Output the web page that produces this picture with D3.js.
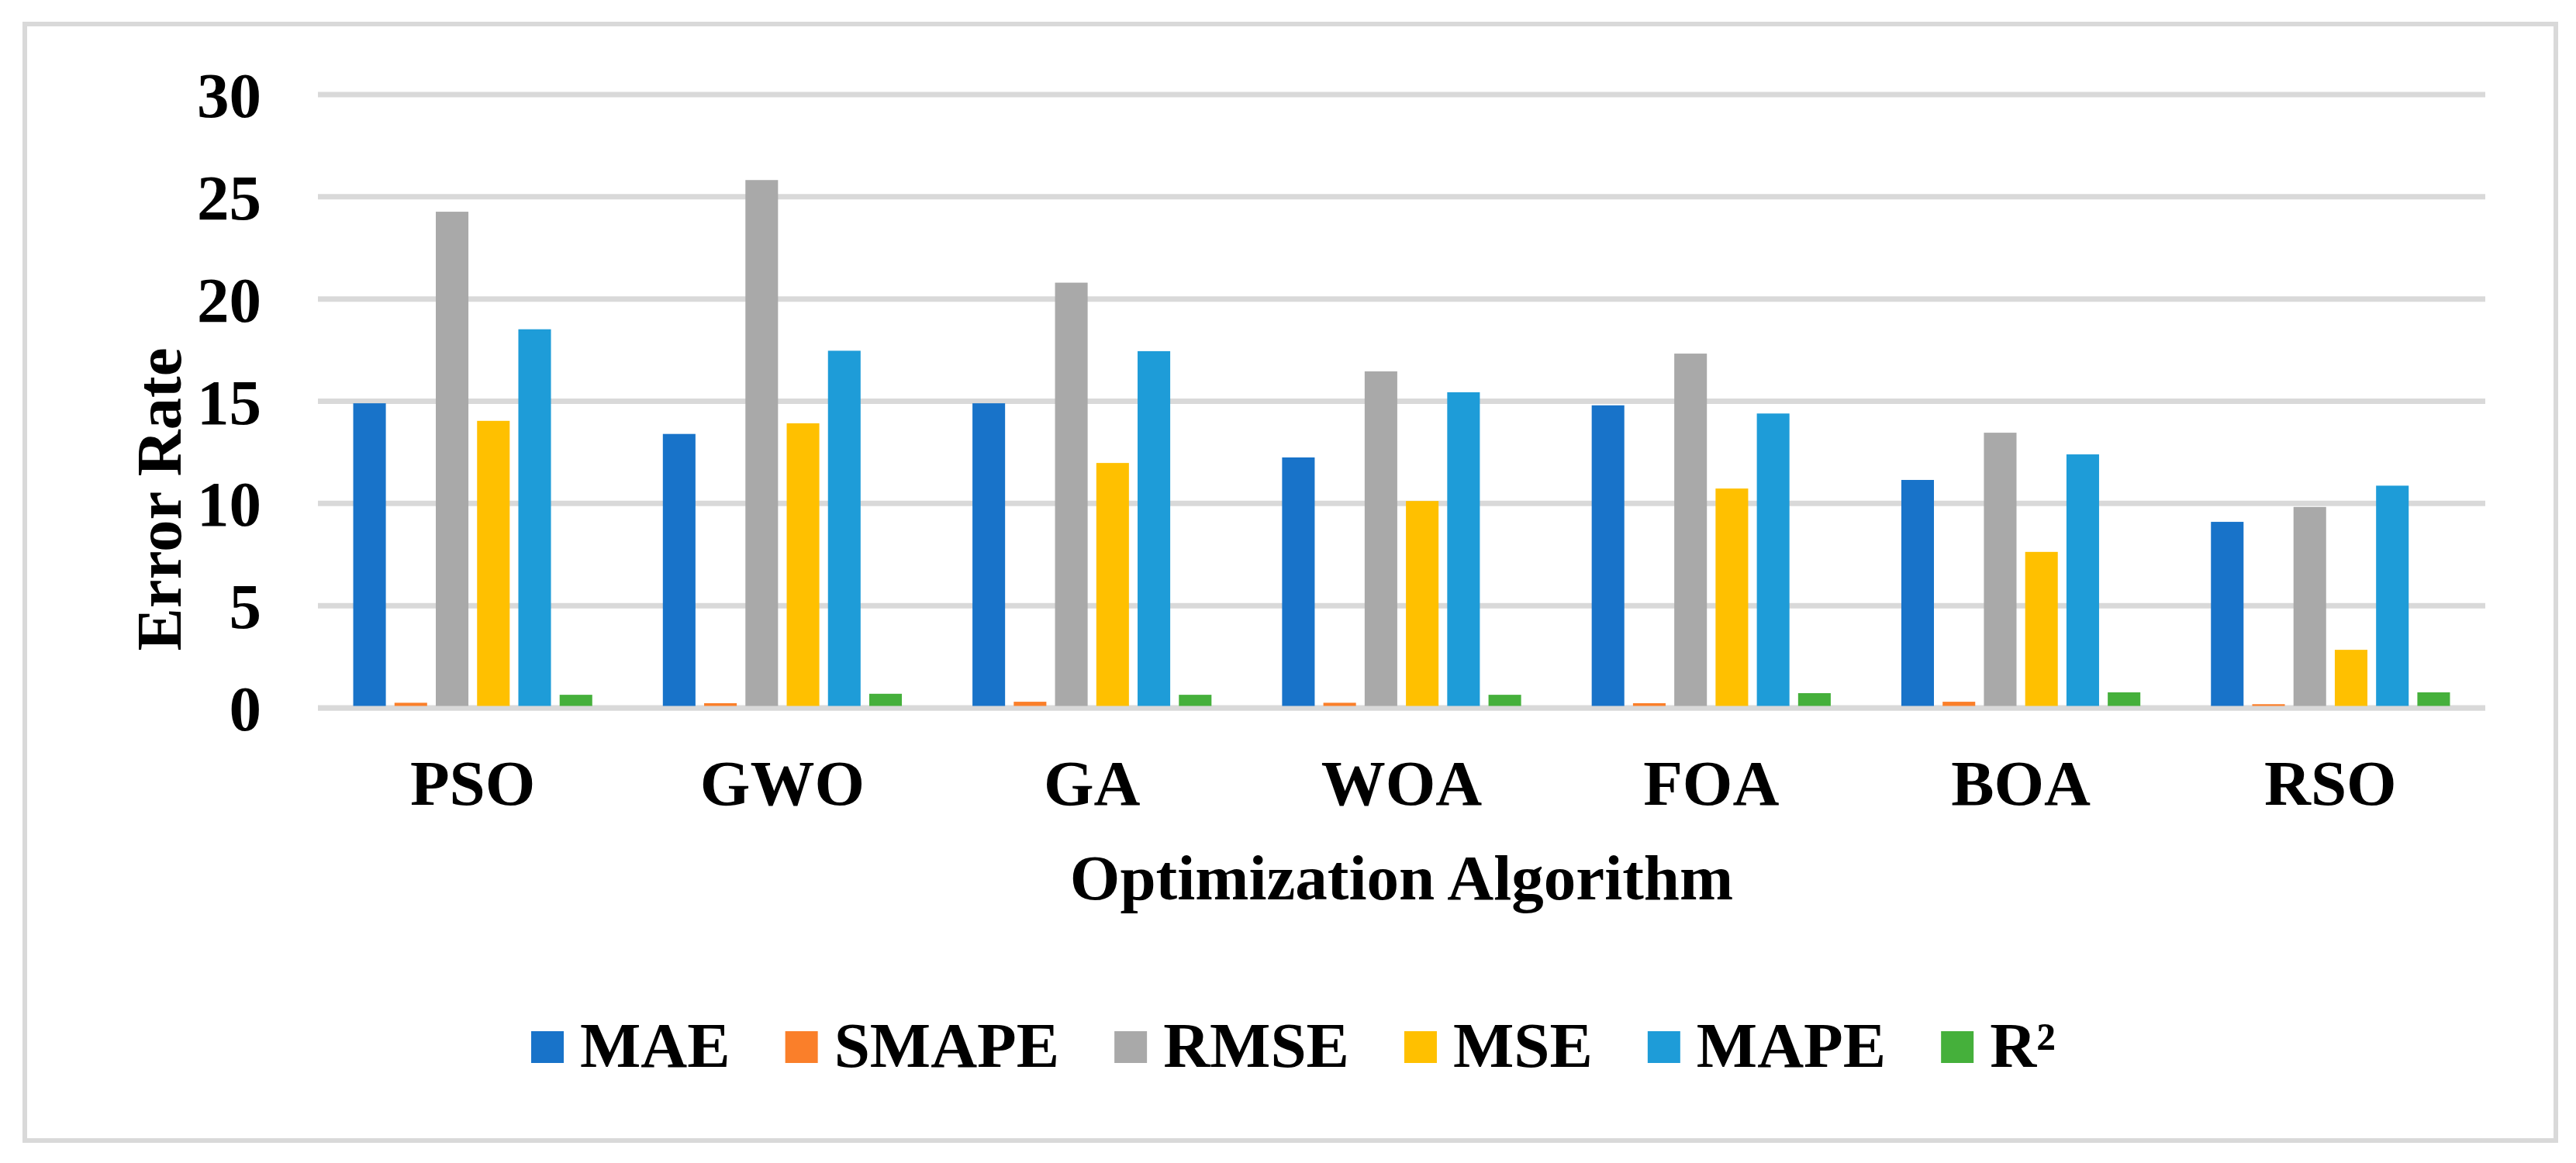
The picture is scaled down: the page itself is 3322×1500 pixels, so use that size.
<!DOCTYPE html>
<html>
<head>
<meta charset="utf-8">
<script src="https://cdn.jsdelivr.net/npm/d3@7"></script>
<style>
  body { margin: 0; background: #fff; }
  text { font-family: "Liberation Serif", "Times New Roman", serif; font-weight: bold; fill: #000; }
</style>
</head>
<body>
<svg id="canvas"></svg>
<script>
// chart data
let algorithms = ['PSO', 'GWO', 'GA', 'WOA', 'FOA', 'BOA', 'RSO']
let metrics = ['MAE', 'SMAPE', 'RMSE', 'MSE', 'MAPE', 'R²']
let maeValues   = [14.9, 13.4, 14.9, 12.25, 14.8, 11.15, 9.1]
let smapeValues = [0.25, 0.23, 0.30, 0.25, 0.23, 0.30, 0.18]
let rmseValues  = [24.27, 25.82, 20.8, 16.46, 17.33, 13.46, 9.83]
let mseValues   = [14.04, 13.92, 11.98, 10.12, 10.73, 7.63, 2.84]
let mapeValues  = [18.52, 17.47, 17.45, 15.44, 14.4, 12.4, 10.87]
let r2Values    = [0.64, 0.69, 0.64, 0.64, 0.72, 0.76, 0.76]
let yTicks = [0, 5, 10, 15, 20, 25, 30]

let seriesValues = [maeValues, smapeValues, rmseValues, mseValues, mapeValues, r2Values]
let colors = ['#1873C9', '#FA7F2A', '#A9A9A9', '#FFC000', '#1E9CD8', '#45B03B']

let width = 3322
let height = 1500
let plot = {left: 410, right: 3205, top: 122, bottom: 913}
let fontSize = 83

let canvas = d3.select('#canvas').attr('width', width).attr('height', height)

// outer frame
canvas.append('rect')
    .attr('x', 32).attr('y', 31)
    .attr('width', 3264).attr('height', 1440)
    .attr('fill', 'none')
    .attr('stroke', '#d9d9d9')
    .attr('stroke-width', 6)

let xScale = d3.scaleBand()
    .domain(algorithms)
    .range([plot.left, plot.right])
    .paddingInner(0.228)
    .paddingOuter(0.114)

let seriesScale = d3.scaleBand()
    .domain(metrics)
    .range([0, xScale.bandwidth()])
    .paddingInner(0.21)

let yScale = d3.scaleLinear()
    .domain([0, 30])
    .range([plot.bottom, plot.top])

// gridlines
canvas.selectAll('.grid')
    .data(yTicks)
    .enter()
    .append('line')
    .attr('class', 'grid')
    .attr('x1', plot.left)
    .attr('x2', plot.right)
    .attr('y1', d => yScale(d))
    .attr('y2', d => yScale(d))
    .attr('stroke', '#d9d9d9')
    .attr('stroke-width', 7)

// y tick labels
canvas.selectAll('.ytick')
    .data(yTicks)
    .enter()
    .append('text')
    .attr('class', 'ytick')
    .attr('x', 337)
    .attr('y', d => yScale(d) + 29)
    .attr('text-anchor', 'end')
    .style('font-size', fontSize + 'px')
    .text(d => d)

// bars
let groups = canvas.selectAll('.group')
    .data(algorithms)
    .enter()
    .append('g')
    .attr('class', 'group')
    .attr('transform', d => 'translate(' + xScale(d) + ',0)')

groups.selectAll('rect')
    .data((d, i) => metrics.map((m, j) => ({metric: m, value: seriesValues[j][i], color: colors[j]})))
    .enter()
    .append('rect')
    .attr('x', d => seriesScale(d.metric))
    .attr('width', seriesScale.bandwidth())
    .attr('y', d => yScale(d.value))
    .attr('height', d => yScale(0) - yScale(d.value))
    .attr('fill', d => d.color)

// baseline over the bars
canvas.append('line')
    .attr('x1', plot.left).attr('x2', plot.right)
    .attr('y1', yScale(0) + 0.5).attr('y2', yScale(0) + 0.5)
    .attr('stroke', '#d9d9d9')
    .attr('stroke-width', 6)

// x labels
canvas.selectAll('.xtick')
    .data(algorithms)
    .enter()
    .append('text')
    .attr('class', 'xtick')
    .attr('x', d => xScale(d) + xScale.bandwidth() / 2)
    .attr('y', 1038)
    .attr('text-anchor', 'middle')
    .style('font-size', fontSize + 'px')
    .text(d => d)

// axis titles
canvas.append('text')
    .attr('x', (plot.left + plot.right) / 2)
    .attr('y', 1160)
    .attr('text-anchor', 'middle')
    .style('font-size', fontSize + 'px')
    .text('Optimization Algorithm')

canvas.append('text')
    .attr('transform', 'translate(233,644) rotate(-90)')
    .attr('text-anchor', 'middle')
    .style('font-size', fontSize + 'px')
    .text('Error Rate')

// legend
let legend = canvas.append('g')
let swatch = 42
let x = 0
metrics.forEach((m, i) => {
    let item = legend.append('g').attr('transform', 'translate(' + x + ',0)')
    item.append('rect')
        .attr('x', 0).attr('y', 1330)
        .attr('width', swatch).attr('height', 41)
        .attr('fill', colors[i])
    let t = item.append('text')
        .attr('x', swatch + 21)
        .attr('y', 1376)
        .style('font-size', fontSize + 'px')
        .text(m)
    x += swatch + 21 + t.node().getComputedTextLength() + 71
})
let legendWidth = x - 71
legend.attr('transform', 'translate(' + (1668 - legendWidth / 2) + ',0)')
</script>
</body>
</html>
